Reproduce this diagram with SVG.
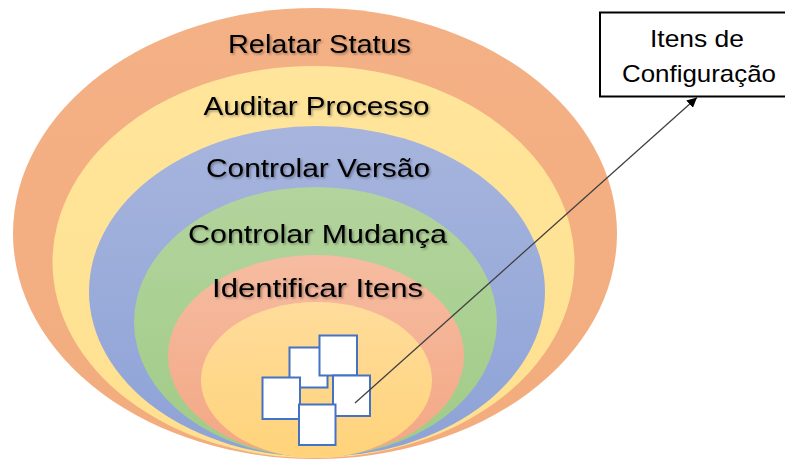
<svg xmlns="http://www.w3.org/2000/svg" width="785" height="461" viewBox="0 0 785 461">
  <defs>
    <style>
      .lbl { font-family: "Liberation Sans", Arial, sans-serif; font-size: 25px; fill: #000; text-anchor: middle; filter: url(#shadow); }
      .box-txt { font-family: "Liberation Sans", Arial, sans-serif; font-size: 24px; fill: #000; text-anchor: middle; }
      .item { fill: #ffffff; stroke: #4472C4; stroke-width: 2; }
      .conn { stroke: #404040; stroke-width: 1.3; fill: none; }
    </style>
    <filter id="shadow" x="-10%" y="-30%" width="120%" height="160%">
      <feDropShadow dx="1.5" dy="1.5" stdDeviation="1" flood-color="#000" flood-opacity="0.35"/>
    </filter>
    <linearGradient id="gOrange" x1="0" y1="0" x2="0" y2="1">
      <stop offset="0" stop-color="#F4B185"/>
      <stop offset="1" stop-color="#F2AC7E"/>
    </linearGradient>
    <linearGradient id="gYellow" x1="0" y1="0" x2="0" y2="1">
      <stop offset="0" stop-color="#FFE59B"/>
      <stop offset="1" stop-color="#FEE08F"/>
    </linearGradient>
    <linearGradient id="gBlue" x1="0" y1="0" x2="0" y2="1">
      <stop offset="0" stop-color="#A7B5DD"/>
      <stop offset="1" stop-color="#8DA2D7"/>
    </linearGradient>
    <linearGradient id="gGreen" x1="0" y1="0" x2="0" y2="1">
      <stop offset="0" stop-color="#B3D49D"/>
      <stop offset="1" stop-color="#A0CB87"/>
    </linearGradient>
    <linearGradient id="gSalmon" x1="0" y1="0" x2="0" y2="1">
      <stop offset="0" stop-color="#F6BCA1"/>
      <stop offset="1" stop-color="#F3A784"/>
    </linearGradient>
    <linearGradient id="gInner" x1="0" y1="0" x2="0" y2="1">
      <stop offset="0" stop-color="#FFDC9C"/>
      <stop offset="1" stop-color="#FFD37A"/>
    </linearGradient>
    <marker id="arrow" viewBox="0 0 10 10" refX="10" refY="5" markerWidth="10" markerHeight="10" markerUnits="userSpaceOnUse" orient="auto">
      <path d="M0,0 L10,5 L0,10 Z" fill="#000"/>
    </marker>
  </defs>

  <g id="layer-relatar-status">
    <ellipse cx="315" cy="233.5" rx="302" ry="225.5" fill="url(#gOrange)"/>
    <text class="lbl" x="319.5" y="53" textLength="183" lengthAdjust="spacingAndGlyphs">Relatar Status</text>
  </g>
  <g id="layer-auditar-processo">
    <ellipse cx="313.5" cy="262" rx="261" ry="196" fill="url(#gYellow)"/>
    <text class="lbl" x="316.5" y="115" textLength="226" lengthAdjust="spacingAndGlyphs">Auditar Processo</text>
  </g>
  <g id="layer-controlar-versao">
    <ellipse cx="317" cy="291.5" rx="228" ry="165.5" fill="url(#gBlue)"/>
    <text class="lbl" x="318" y="177" textLength="224" lengthAdjust="spacingAndGlyphs">Controlar Versão</text>
  </g>
  <g id="layer-controlar-mudanca">
    <ellipse cx="315.5" cy="322" rx="181.5" ry="135" fill="url(#gGreen)"/>
    <text class="lbl" x="317.5" y="243" textLength="259" lengthAdjust="spacingAndGlyphs">Controlar Mudança</text>
  </g>
  <g id="layer-identificar-itens">
    <ellipse cx="316" cy="356" rx="148" ry="101" fill="url(#gSalmon)"/>
    <text class="lbl" x="317.5" y="297" textLength="211" lengthAdjust="spacingAndGlyphs">Identificar Itens</text>
  </g>
  <g id="layer-core">
    <ellipse cx="316.5" cy="380" rx="115.5" ry="78" fill="url(#gInner)"/>
  </g>

  <g id="config-items">
    <rect class="item" x="289.5" y="347.5" width="38" height="40"/>
    <rect class="item" x="319.5" y="335.5" width="37.5" height="40"/>
    <rect class="item" x="333" y="375.5" width="37" height="40.5"/>
    <rect class="item" x="262.5" y="377.5" width="37.5" height="41.5"/>
    <rect class="item" x="299" y="404.5" width="36.5" height="40.5"/>
  </g>

  <g id="node-itens-configuracao">
    <rect x="600" y="12.5" width="195" height="84" fill="#ffffff" stroke="#000" stroke-width="2"/>
    <text class="box-txt" x="697" y="47" textLength="94" lengthAdjust="spacingAndGlyphs">Itens de</text>
    <text class="box-txt" x="699" y="82" textLength="154" lengthAdjust="spacingAndGlyphs">Configuração</text>
  </g>

  <g id="connectors">
    <line class="conn" x1="355" y1="403" x2="697" y2="97.5" marker-end="url(#arrow)"/>
  </g>
</svg>
